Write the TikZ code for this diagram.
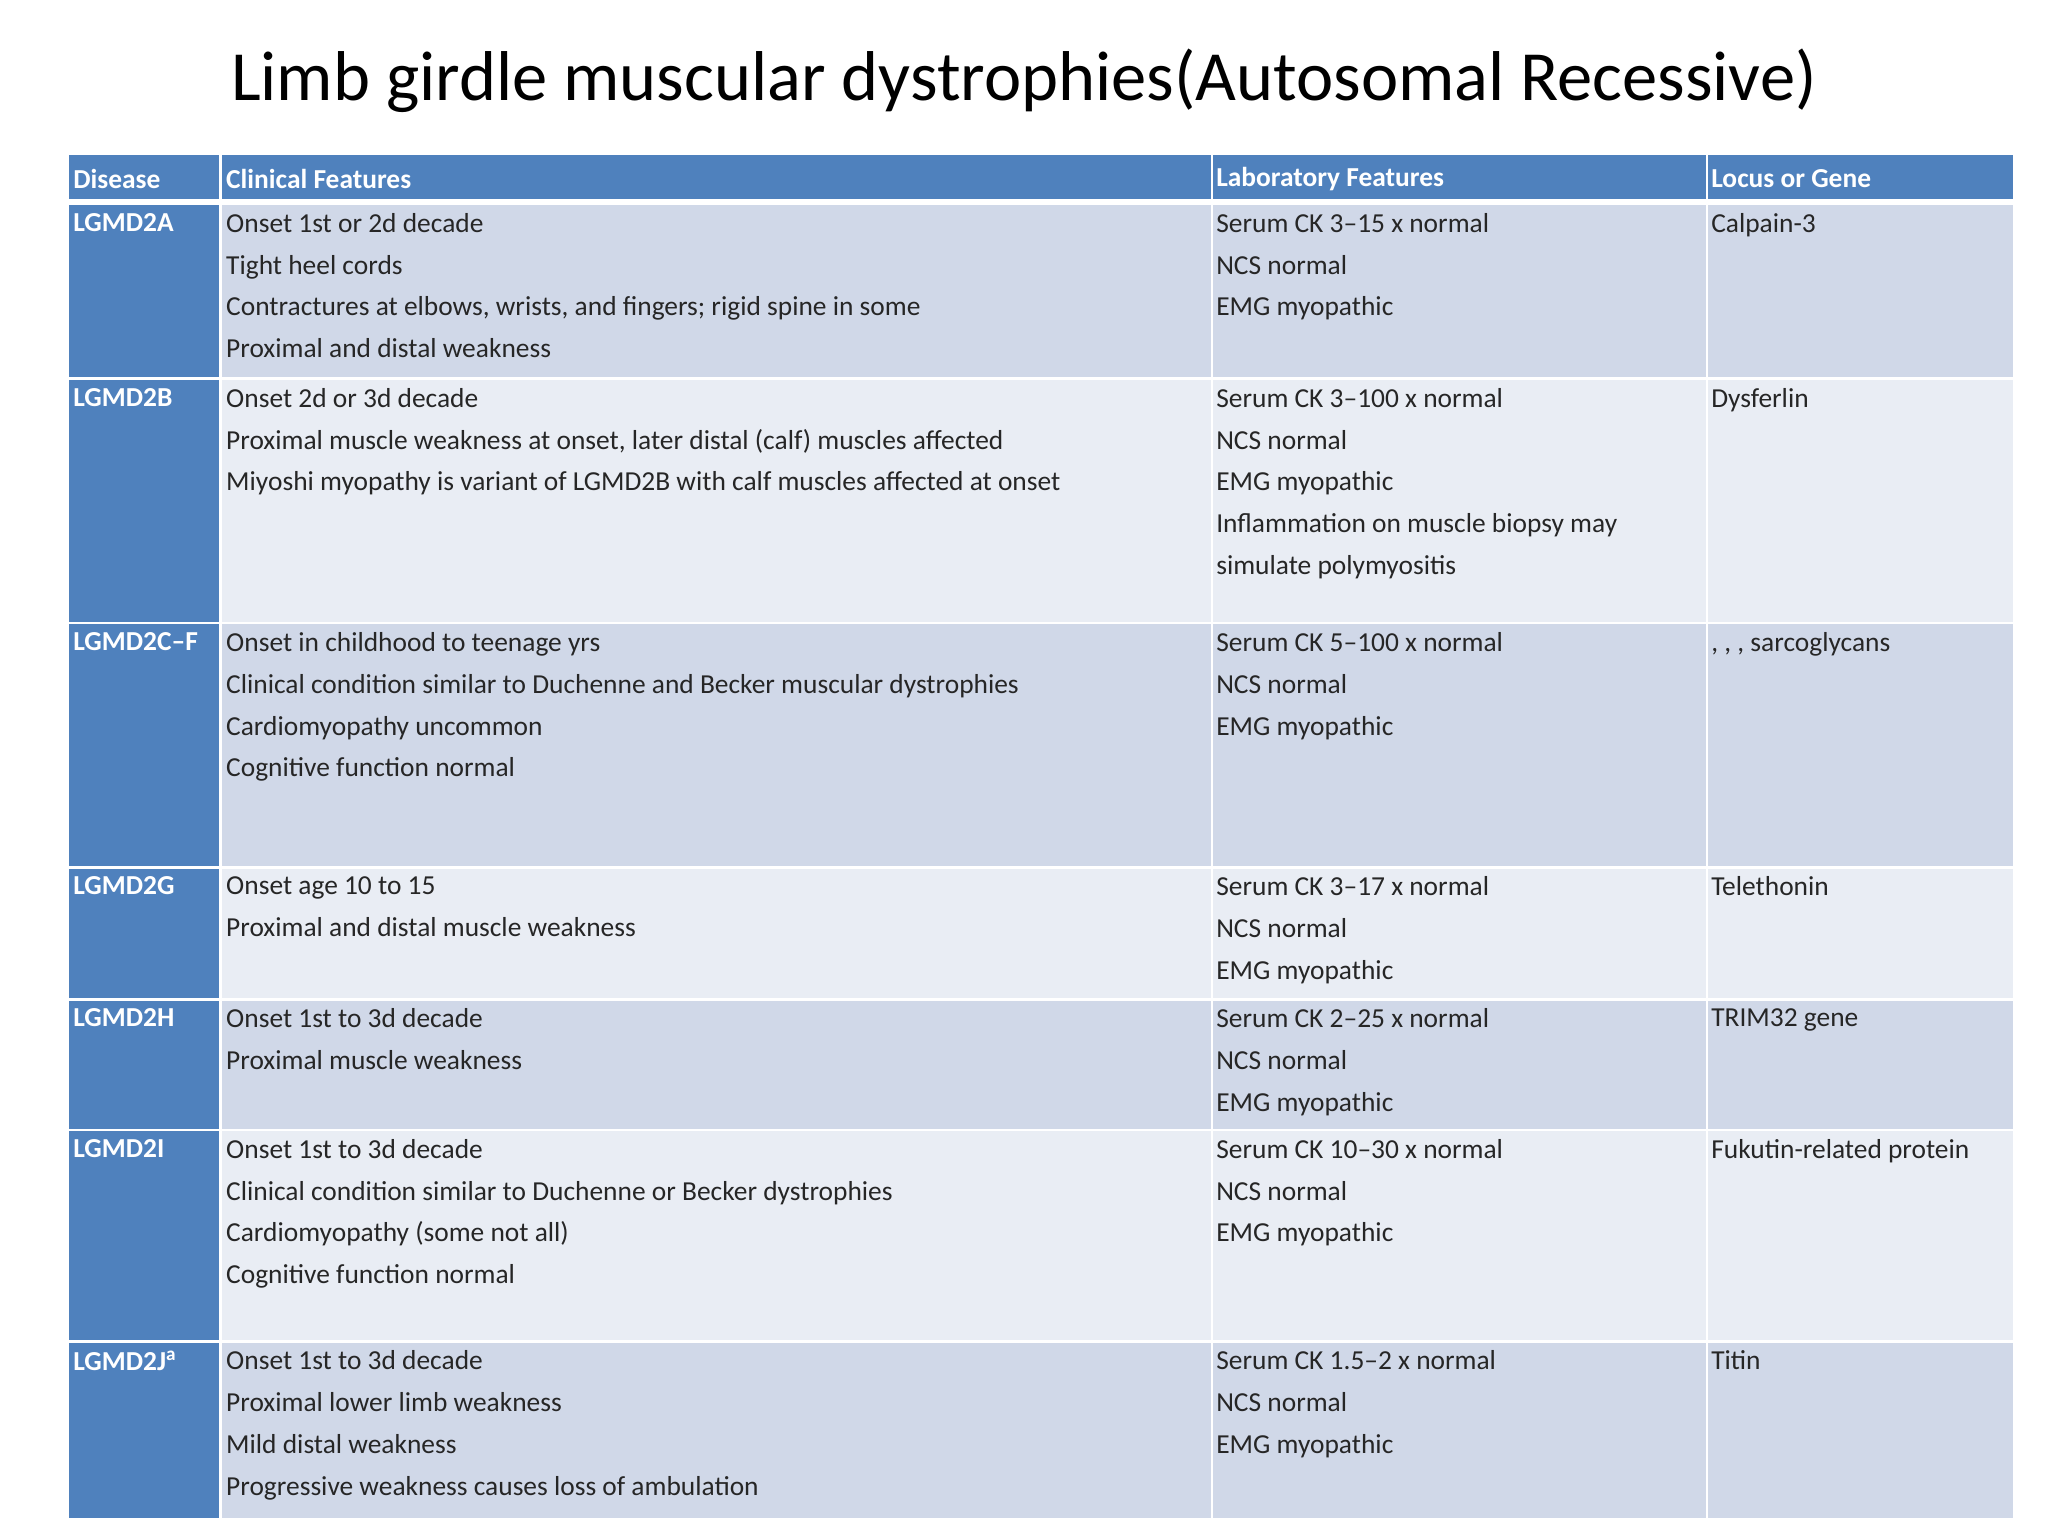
\documentclass[tikz,border=0pt]{standalone}
\usepackage{fontspec}
\setmainfont{Carlito}
\definecolor{hdr}{HTML}{4F81BD}
\definecolor{rowA}{HTML}{D0D8E8}
\definecolor{rowB}{HTML}{E9EDF4}
\begin{document}
\begin{tikzpicture}[x=1pt,y=-1pt,
  cell/.style={anchor=north west,inner sep=0pt,align=left,font=\fontsize{21}{32}\selectfont,text=black!85},
  dis/.style={cell,text=white,font=\fontsize{21}{32}\selectfont\bfseries},
  hd/.style={anchor=west,inner sep=0pt,text=white,font=\fontsize{21}{25}\selectfont\bfseries}]
\useasboundingbox (0,0) rectangle (1568,1176);
\fill[white] (0,0) rectangle (1568,1176);
\node[font=\fontsize{54}{60}\selectfont,text=black] (title) at (784,62) {Limb girdle muscular dystrophies(Autosomal Recessive)};
% column edges
\def\xa{53}\def\xb{170}\def\xc{929}\def\xd{1308}\def\xe{1541}
\fill[hdr] (\xa,119) rectangle (\xe,152);
\draw[white,line width=2pt] (169,119)--(169,152) (928,119)--(928,152) (1307,119)--(1307,152);
\node[hd] (h1) at (56,137) {Disease};
\node[hd] (h2) at (173,137) {Clinical Features};
\node[hd] (h3) at (931,137) {Laboratory Features};
\node[hd] (h4) at (1310,137) {Locus or Gene};
% rows: top, bottom, color, disease, clinical, lab, gene
\newcommand{\tabrow}[8]{%
  \fill[#3] (\xb,#1) rectangle (\xe,#2);
  \fill[hdr] (\xa,#1) rectangle (168,#2);
  \draw[white,line width=2pt] (928,#1)--(928,#2) (1307,#1)--(1307,#2);
  \node[dis] (d#8) at (56,#1+6) {#4};
  \node[cell] (c#8) at (173,#1+6) {#5};
  \node[cell] (l#8) at (931,#1+6) {#6};
  \node[cell] (g#8) at (1310,#1+6) {#7};
}
\tabrow{157}{289}{rowA}{LGMD2A}{Onset 1st or 2d decade\\Tight heel cords\\Contractures at elbows, wrists, and fingers; rigid spine in some\\Proximal and distal weakness}{Serum CK 3–15 x normal\\NCS normal\\EMG myopathic}{Calpain-3}{1}
\tabrow{291}{476}{rowB}{LGMD2B}{Onset 2d or 3d decade\\Proximal muscle weakness at onset, later distal (calf) muscles affected\\Miyoshi myopathy is variant of LGMD2B with calf muscles affected at onset}{Serum CK 3–100 x normal\\NCS normal\\EMG myopathic\\Inflammation on muscle biopsy may\\simulate polymyositis}{Dysferlin}{2}
\tabrow{478}{663}{rowA}{LGMD2C–F}{Onset in childhood to teenage yrs\\Clinical condition similar to Duchenne and Becker muscular dystrophies\\Cardiomyopathy uncommon\\Cognitive function normal}{Serum CK 5–100 x normal\\NCS normal\\EMG myopathic}{, , , sarcoglycans}{3}
\tabrow{665}{764}{rowB}{LGMD2G}{Onset age 10 to 15\\Proximal and distal muscle weakness}{Serum CK 3–17 x normal\\NCS normal\\EMG myopathic}{Telethonin}{4}
\tabrow{766}{864}{rowA}{LGMD2H}{Onset 1st to 3d decade\\Proximal muscle weakness}{Serum CK 2–25 x normal\\NCS normal\\EMG myopathic}{TRIM32 gene}{5}
\tabrow{866}{1026}{rowB}{LGMD2I}{Onset 1st to 3d decade\\Clinical condition similar to Duchenne or Becker dystrophies\\Cardiomyopathy (some not all)\\Cognitive function normal}{Serum CK 10–30 x normal\\NCS normal\\EMG myopathic}{Fukutin-related protein}{6}
\tabrow{1028}{1162}{rowA}{LGMD2J\textsuperscript{a}}{Onset 1st to 3d decade\\Proximal lower limb weakness\\Mild distal weakness\\Progressive weakness causes loss of ambulation}{Serum CK 1.5–2 x normal\\NCS normal\\EMG myopathic}{Titin}{7}
\end{tikzpicture}
\end{document}
